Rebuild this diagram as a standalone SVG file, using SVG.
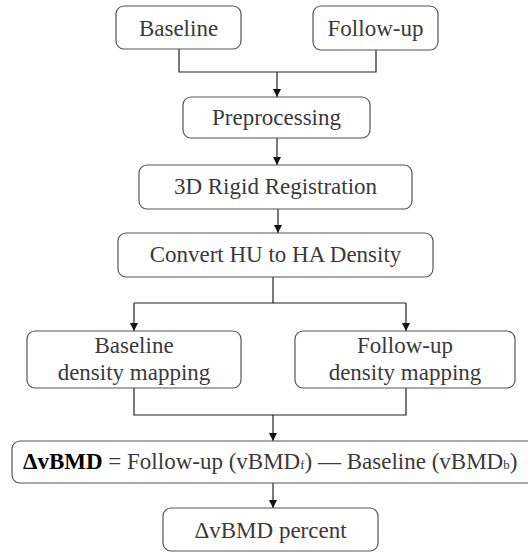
<svg xmlns="http://www.w3.org/2000/svg" width="528" height="552" viewBox="0 0 528 552">
<style>
.box{fill:#fff;stroke:#555;stroke-width:1.2}
.t{font-family:'Liberation Serif','DejaVu Serif',serif;font-size:23px;fill:#3a3a3a;text-anchor:middle}
.c{fill:none;stroke:#222;stroke-width:1.2}
</style>
<defs>
<marker id="ah" viewBox="0 0 8 10" refX="8" refY="5" markerWidth="8" markerHeight="10" markerUnits="userSpaceOnUse" orient="auto">
<path d="M0,1 L8,5 L0,9 Z" fill="#111"/>
</marker>
</defs>
<rect width="528" height="552" fill="#fff"/>
<g id="connectors">
<path class="c" d="M179,49 V72 H376 V50"/>
<path class="c" d="M277,72 V97" marker-end="url(#ah)"/>
<path class="c" d="M277,138 V165" marker-end="url(#ah)"/>
<path class="c" d="M278,209 V233" marker-end="url(#ah)"/>
<path class="c" d="M273,277 V303"/>
<path class="c" d="M134,303 H406"/>
<path class="c" d="M134,303 V331" marker-end="url(#ah)"/>
<path class="c" d="M406,303 V331" marker-end="url(#ah)"/>
<path class="c" d="M134,388 V415 H406 V388"/>
<path class="c" d="M273,415 V441" marker-end="url(#ah)"/>
<path class="c" d="M273,483 V508" marker-end="url(#ah)"/>
</g>
<g id="baseline">
<rect class="box" x="116" y="6" width="125" height="43" rx="8"/>
<text class="t" x="178.5" y="36">Baseline</text>
</g>
<g id="followup">
<rect class="box" x="313" y="6" width="125" height="44" rx="8"/>
<text class="t" x="375.5" y="36">Follow-up</text>
</g>
<g id="preprocessing">
<rect class="box" x="183" y="97" width="187" height="41" rx="8"/>
<text class="t" x="276.5" y="125">Preprocessing</text>
</g>
<g id="registration">
<rect class="box" x="139" y="165" width="273" height="44" rx="8"/>
<text class="t" x="275.5" y="194">3D Rigid Registration</text>
</g>
<g id="convert">
<rect class="box" x="118" y="233" width="315" height="44" rx="8"/>
<text class="t" x="275.5" y="262">Convert HU to HA Density</text>
</g>
<g id="baseline-density">
<rect class="box" x="27" y="331" width="214" height="57" rx="8"/>
<text class="t" x="134" y="353">Baseline</text>
<text class="t" x="134" y="380">density mapping</text>
</g>
<g id="followup-density">
<rect class="box" x="295" y="331" width="220" height="57" rx="8"/>
<text class="t" x="405" y="353">Follow-up</text>
<text class="t" x="405" y="380">density mapping</text>
</g>
<g id="delta">
<rect class="box" x="12" y="441" width="530" height="42" rx="8"/>
<text class="t" x="23" y="469" style="text-anchor:start"><tspan font-weight="bold" fill="#000">ΔvBMD</tspan> = Follow-up (vBMD<tspan font-size="13">f</tspan>) — Baseline (vBMD<tspan font-size="13">b</tspan>)</text>
</g>
<g id="percent">
<rect class="box" x="163" y="508" width="215" height="43" rx="8"/>
<text class="t" x="270.5" y="538">ΔvBMD percent</text>
</g>
</svg>
